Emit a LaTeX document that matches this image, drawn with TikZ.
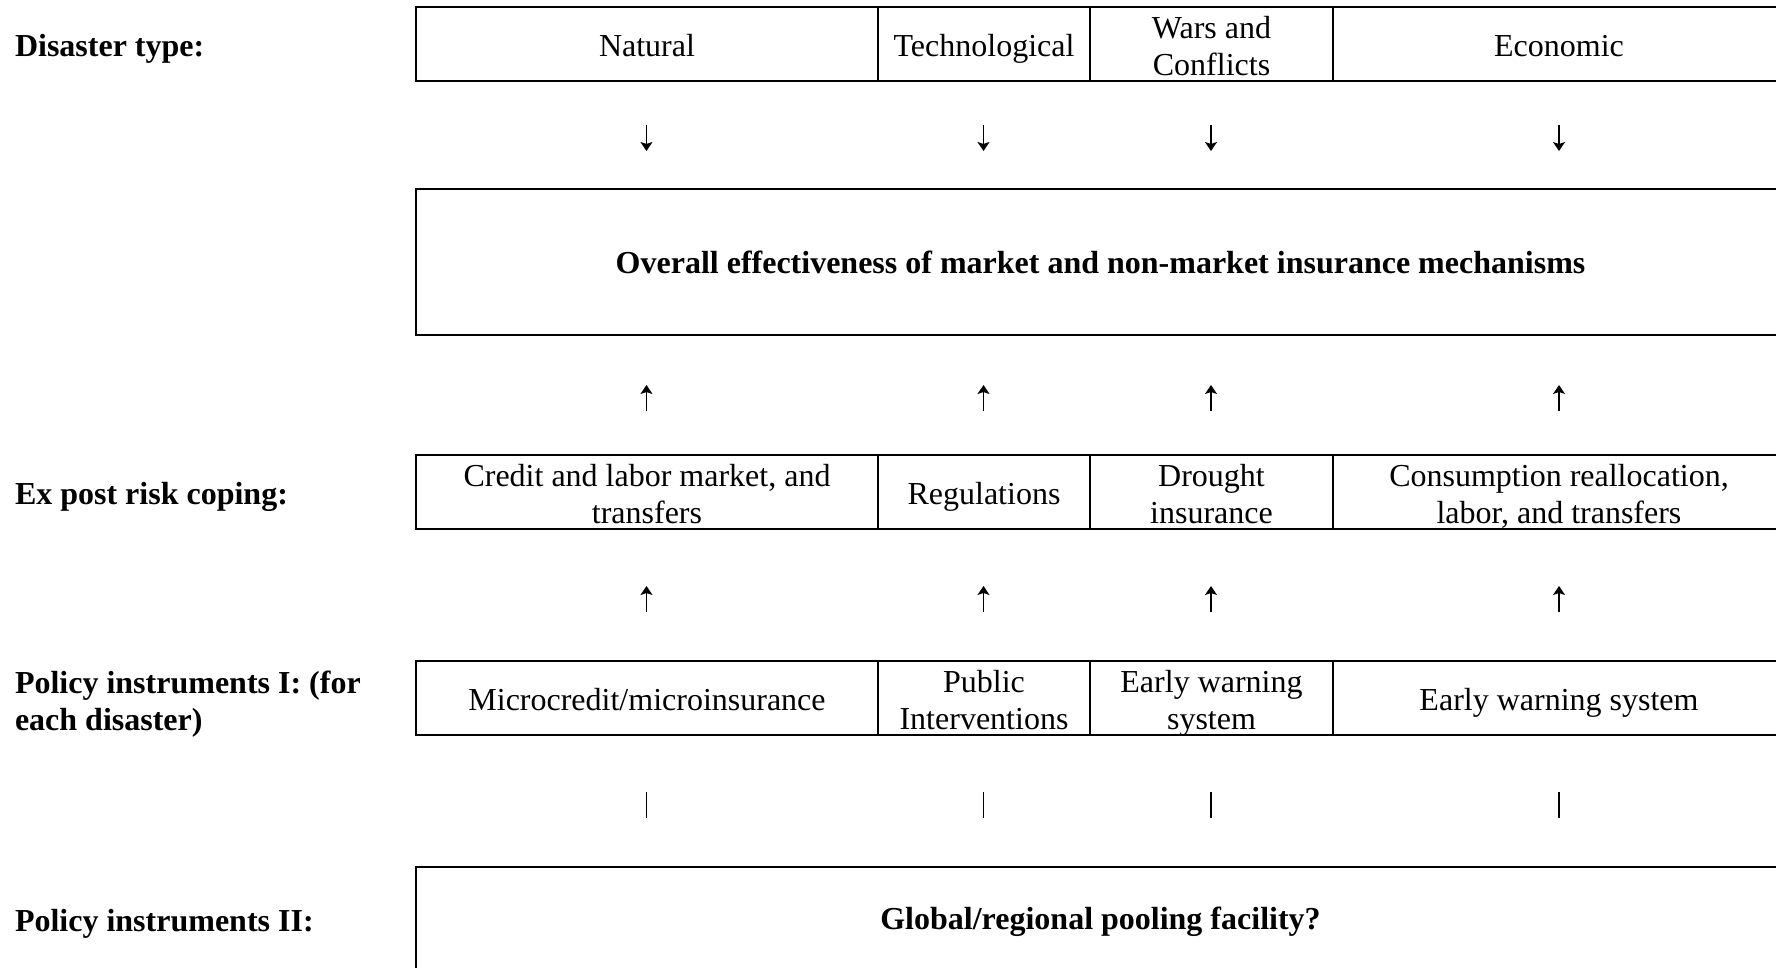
\documentclass[tikz,border=0pt]{standalone}
\usepackage{fontspec}
\setmainfont{Liberation Serif}
\usetikzlibrary{arrows.meta}
\newcommand\Ht{\rule{0pt}{33pt}}
\newcommand\Dp{\rule[-8pt]{0pt}{8pt}}
\begin{document}
\begin{tikzpicture}[x=1pt,y=-1pt,
  every node/.style={font=\fontsize{32}{37}\selectfont, inner sep=0pt, outer sep=0pt},
  cell/.style={draw, line width=2pt, anchor=center},
  row/.style={cell, minimum height=74pt},
  ctext/.style={align=center, anchor=center},
  btext/.style={align=center, anchor=center, font=\fontsize{32}{37}\selectfont\bfseries},
  lbl/.style={anchor=west, align=left, font=\fontsize{32}{37}\selectfont\bfseries},
  arr/.style={line width=1.6pt, -{Stealth[length=9pt,width=12pt,inset=2pt]}},
  barline/.style={line width=1.2pt}]
\useasboundingbox (0,0) rectangle (1776,967);
% Row 1: disaster types
\node[row, minimum width=462pt] (t1) at (647,44) {};
\node[row, minimum width=212pt] (t2) at (984,44) {};
\node[row, minimum width=243pt] (t3) at (1211.5,44) {};
\node[row, minimum width=452pt] (t4) at (1559,44) {};
\node[ctext] (t1t) at (t1.center) {\Ht Natural\Dp};
\node[ctext] (t2t) at (t2.center) {\Ht Technological\Dp};
\node[ctext] (t3t) at (t3.center) {\Ht Wars and\\Conflicts\Dp};
\node[ctext] (t4t) at (t4.center) {\Ht Economic\Dp};
% overall box
\node[cell, minimum width=1369pt, minimum height=146pt] (ov) at (1100.5,262) {};
\node[btext] (ovt) at (ov.center) {Overall effectiveness of market and non-market insurance mechanisms};
% ex post row
\node[row, minimum width=462pt] (e1) at (647,492) {};
\node[row, minimum width=212pt] (e2) at (984,492) {};
\node[row, minimum width=243pt] (e3) at (1211.5,492) {};
\node[row, minimum width=452pt] (e4) at (1559,492) {};
\node[ctext] (e1t) at (e1.center) {\Ht Credit and labor market, and\\transfers\Dp};
\node[ctext] (e2t) at (e2.center) {\Ht Regulations\Dp};
\node[ctext] (e3t) at (e3.center) {\Ht Drought\\insurance\Dp};
\node[ctext] (e4t) at (e4.center) {\Ht Consumption reallocation,\\labor, and transfers\Dp};
% policy I row
\node[row, minimum width=462pt] (p1) at (647,698) {};
\node[row, minimum width=212pt] (p2) at (984,698) {};
\node[row, minimum width=243pt] (p3) at (1211.5,698) {};
\node[row, minimum width=452pt] (p4) at (1559,698) {};
\node[ctext] (p1t) at (p1.center) {\Ht Microcredit/microinsurance\Dp};
\node[ctext] (p2t) at (p2.center) {\Ht Public\\Interventions\Dp};
\node[ctext] (p3t) at (p3.center) {\Ht Early warning\\system\Dp};
\node[ctext] (p4t) at (p4.center) {\Ht Early warning system\Dp};
% policy II box
\node[cell, minimum width=1369pt, minimum height=110pt] (g) at (1100.5,922) {};
\node[btext] (gt) at (g.center) {Global/regional pooling facility?};
% arrows between rows
\foreach \x/\n in {646.5/a,983.5/b,1211/c,1559/d}{
  \coordinate (d\n0) at (\x,125);  \coordinate (d\n1) at (\x,151);
  \coordinate (u\n0) at (\x,411);  \coordinate (u\n1) at (\x,385);
  \coordinate (v\n0) at (\x,612);  \coordinate (v\n1) at (\x,586);
  \coordinate (b\n0) at (\x,792);  \coordinate (b\n1) at (\x,818);
  \draw[arr] (d\n0) -- (d\n1);
  \draw[arr] (u\n0) -- (u\n1);
  \draw[arr] (v\n0) -- (v\n1);
  \draw[barline] (b\n0) -- (b\n1);
}
% left labels
\node[lbl] (l1) at (15,48.5) {Disaster type:};
\node[lbl] (l2) at (15,496.5) {Ex post risk coping:};
\node[lbl] (l3) at (15,704.5) {Policy instruments I: (for\\each disaster)};
\node[lbl] (l4) at (15,923.5) {Policy instruments II:};
\end{tikzpicture}
\end{document}
